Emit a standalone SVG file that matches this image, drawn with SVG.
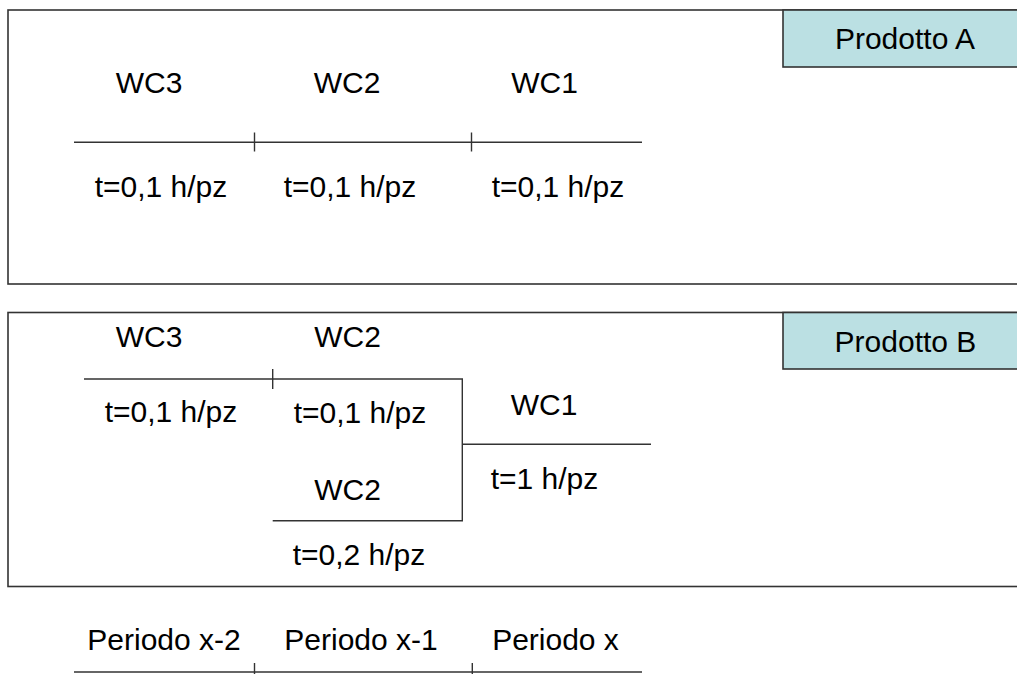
<svg xmlns="http://www.w3.org/2000/svg" width="1017" height="674" viewBox="0 0 1017 674">
<style>
.frame{fill:#fff;stroke:#333;stroke-width:1.6}
.tag{fill:#BBE0E3;stroke:#333;stroke-width:1.6}
.ln{stroke:#333;stroke-width:1.4;fill:none}
.t{font-family:"Liberation Sans",Arial,sans-serif;font-size:30px;fill:#000;text-anchor:middle}
</style>
<rect width="1017" height="674" fill="#fff"/>
<g id="boxA">
<rect class="frame" x="8" y="10" width="1030" height="274"/>
</g>
<g id="boxB">
<rect class="frame" x="8" y="312.5" width="1030" height="274"/>
</g>
<g id="prodottoA">
<rect class="tag" x="783" y="10" width="250" height="57"/>
<text class="t" x="905" y="49">Prodotto A</text>
</g>
<g id="prodottoB">
<rect class="tag" x="783" y="312.5" width="250" height="56.5"/>
<text class="t" x="905.5" y="351.5">Prodotto B</text>
</g>
<g id="connectors">
<line class="ln" x1="74" y1="142.3" x2="642" y2="142.3"/>
<line class="ln" x1="254.5" y1="132.5" x2="254.5" y2="151.5"/>
<line class="ln" x1="471.5" y1="132.5" x2="471.5" y2="151.5"/>
<polyline class="ln" points="84,379 462.3,379 462.3,520.7 272.7,520.7"/>
<line class="ln" x1="272.7" y1="369" x2="272.7" y2="389"/>
<line class="ln" x1="462.3" y1="444.3" x2="651" y2="444.3"/>
<line class="ln" x1="74" y1="672" x2="642" y2="672"/>
<line class="ln" x1="254.5" y1="663" x2="254.5" y2="674"/>
<line class="ln" x1="472.3" y1="663" x2="472.3" y2="674"/>
</g>
<g id="productA_labels">
<text class="t" x="149" y="93.3">WC3</text>
<text class="t" x="347" y="93.3">WC2</text>
<text class="t" x="544.5" y="93.3">WC1</text>
<text class="t" x="161" y="196.7">t=0,1 h/pz</text>
<text class="t" x="350" y="196.7">t=0,1 h/pz</text>
<text class="t" x="558" y="196.7">t=0,1 h/pz</text>
</g>
<g id="productB_labels">
<text class="t" x="149" y="346.7">WC3</text>
<text class="t" x="347.5" y="347.3">WC2</text>
<text class="t" x="171" y="421.7">t=0,1 h/pz</text>
<text class="t" x="360" y="423.3">t=0,1 h/pz</text>
<text class="t" x="544" y="415">WC1</text>
<text class="t" x="544.5" y="489">t=1 h/pz</text>
<text class="t" x="347.5" y="500">WC2</text>
<text class="t" x="359" y="565">t=0,2 h/pz</text>
</g>
<g id="periods">
<text class="t" x="164" y="650">Periodo x-2</text>
<text class="t" x="361" y="650">Periodo x-1</text>
<text class="t" x="555.5" y="650">Periodo x</text>
</g>
</svg>
